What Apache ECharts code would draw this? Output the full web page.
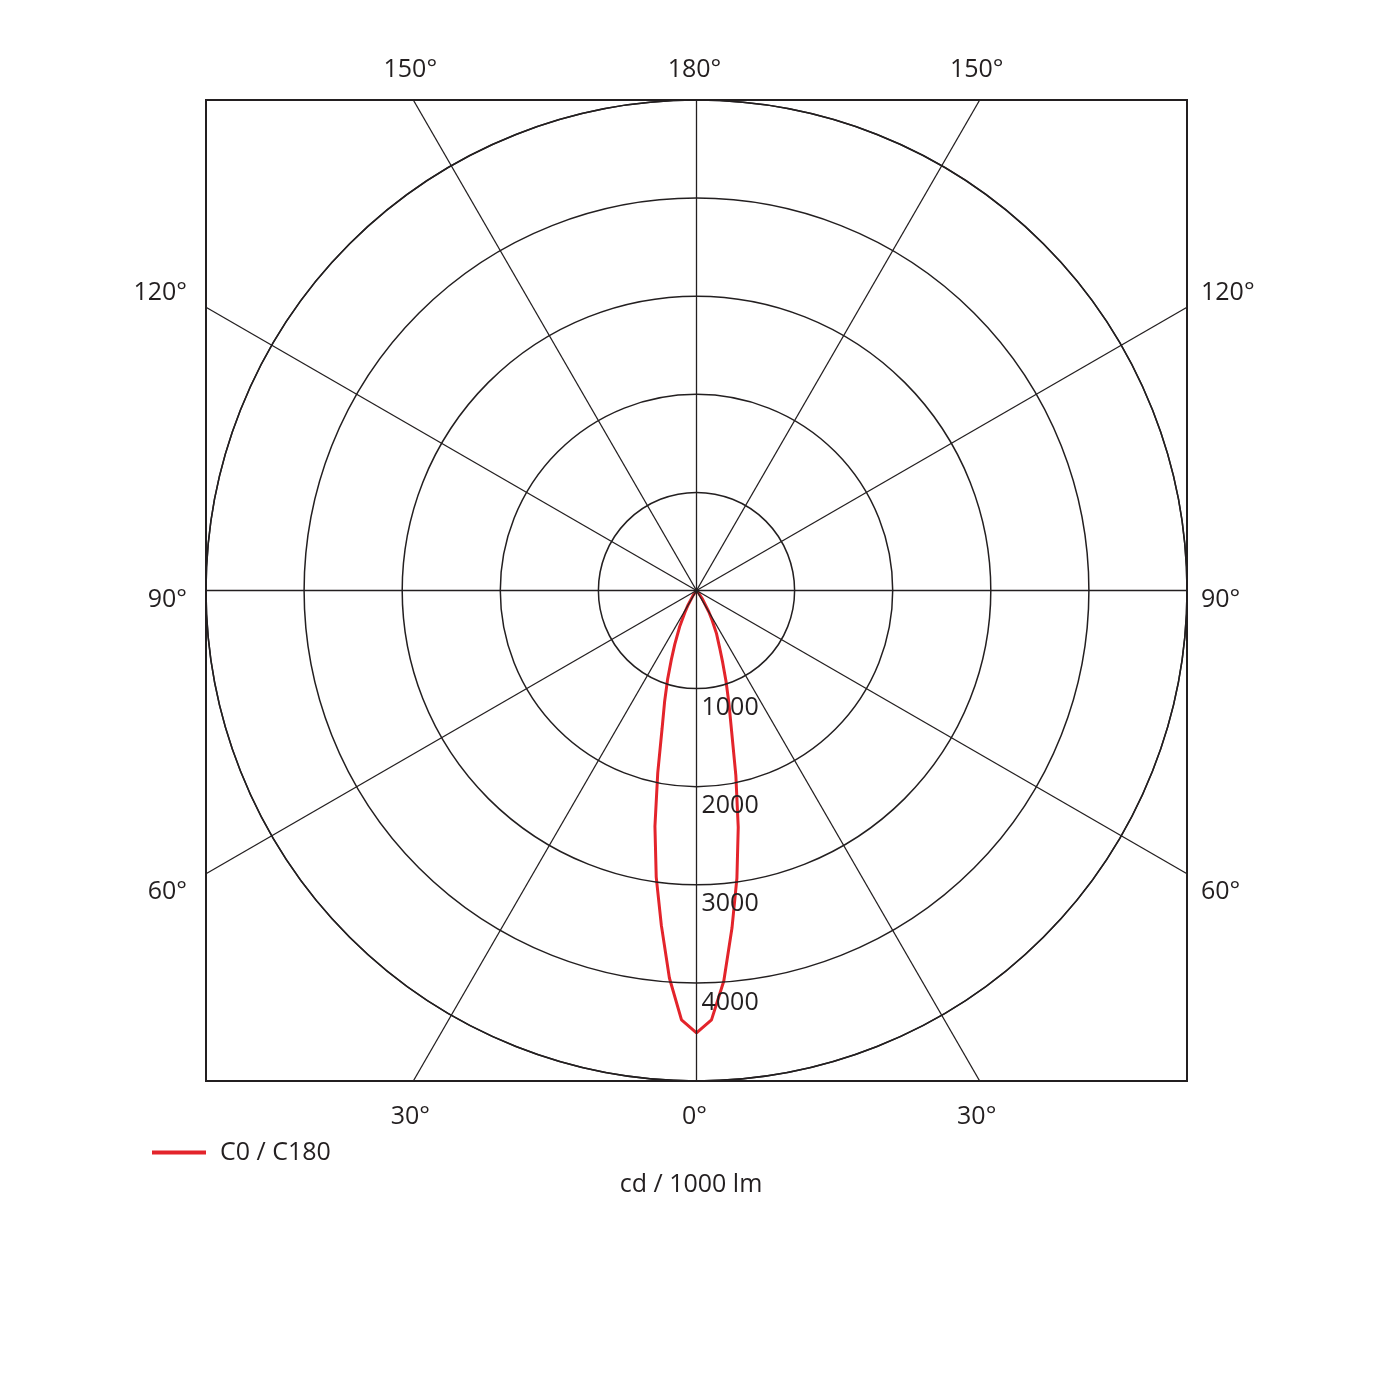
<!DOCTYPE html>
<html>
<head>
<meta charset="utf-8">
<title>C0 / C180</title>
<script src="https://cdn.jsdelivr.net/npm/echarts@6/dist/echarts.min.js"></script>
<style>
  html, body { margin: 0; padding: 0; background: #fff; }
  #chart { width: 1389px; height: 1389px; }
</style>
</head>
<body>
<div id="chart"></div>
<script>
// gamma angles (deg) and intensities (cd / 1000 lm)
const angles = [0, 2, 4, 6, 8, 10, 12, 14, 16, 18, 20, 22, 25, 28, 30, 35, 40, 45, 60, 75, 90];
const c0   = [4510, 4380, 3960, 3430, 2950, 2440, 1900, 1450, 1180, 955, 750, 590, 405, 250, 180, 60, 15, 0, 0, 0, 0];
const c180 = [4510, 4380, 3990, 3460, 2960, 2450, 1930, 1480, 1200, 975, 780, 630, 480, 330, 250, 100, 30, 0, 0, 0, 0];

const ringTicks = [1000, 2000, 3000, 4000];
const spokeAngles = [0, 30, 60, 90, 120, 150, 180, 210, 240, 270, 300, 330];
const angleLabels = ['0°', '30°', '60°', '90°', '120°', '150°', '180°'];

const CX = 696.5, CY = 590.5, R = 490.5, RMAX = 5000;
const INK = '#231f20';
const RED = '#e3242b';
const FONT = '"Open Sans", "Noto Sans", sans-serif';
const FS = 25;

// one closed trace: C180 on the right half, C0 on the left half
let traceData = [];
for (let i = angles.length - 1; i >= 1; i--) {
  traceData.push([c180[i], 360 - angles[i]]);
}
for (let i = 0; i < angles.length; i++) {
  traceData.push([c0[i], angles[i]]);
}

let myChart = echarts.init(document.getElementById('chart'));

// spokes run from the centre to the square frame
function spokeEnd(a) {
  let rad = a * Math.PI / 180;
  let dx = -Math.sin(rad), dy = Math.cos(rad);
  let t = R / Math.max(Math.abs(dx), Math.abs(dy));
  return [CX + dx * t, CY + dy * t];
}

let graphics = [{
  type: 'rect',
  shape: { x: CX - R, y: CY - R, width: 2 * R, height: 2 * R },
  style: { fill: null, stroke: INK, lineWidth: 2 },
  z: 5
}];
spokeAngles.forEach(a => {
  let e = spokeEnd(a);
  graphics.push({
    type: 'line',
    shape: { x1: CX, y1: CY, x2: e[0], y2: e[1] },
    style: { stroke: INK, lineWidth: 1.3 },
    z: 4
  });
});

// angle labels sit just outside the frame
let tan30 = Math.tan(Math.PI / 6);
let labelSpots = [
  // [text, x, y, align]
  [angleLabels[0], CX - 2, CY + R + 36, 'center'],
  [angleLabels[1], CX - R * tan30 - 3, CY + R + 36, 'center'],
  [angleLabels[1], CX + R * tan30 - 3, CY + R + 36, 'center'],
  [angleLabels[5], CX - R * tan30 - 3, CY - R - 30, 'center'],
  [angleLabels[5], CX + R * tan30 - 3, CY - R - 30, 'center'],
  [angleLabels[6], CX - 2, CY - R - 30, 'center'],
  [angleLabels[2], CX - R - 19, CY + R * tan30 + 18, 'right'],
  [angleLabels[3], CX - R - 19, CY + 9, 'right'],
  [angleLabels[4], CX - R - 19, CY - R * tan30 - 14, 'right'],
  [angleLabels[2], CX + R + 14, CY + R * tan30 + 18, 'left'],
  [angleLabels[3], CX + R + 14, CY + 9, 'left'],
  [angleLabels[4], CX + R + 14, CY - R * tan30 - 14, 'left']
];
labelSpots.forEach(s => {
  graphics.push({
    type: 'text',
    x: s[1], y: s[2],
    style: {
      text: s[0], fill: INK, font: FS + 'px ' + FONT,
      textAlign: s[3], textVerticalAlign: 'middle'
    },
    z: 6
  });
});
graphics.push({
  type: 'text',
  x: 691, y: CY + R + 104,
  style: {
    text: 'cd / 1000 lm', fill: INK, font: FS + 'px ' + FONT,
    textAlign: 'center', textVerticalAlign: 'middle'
  },
  z: 6
});

let option = {
  animation: false,
  backgroundColor: '#fff',
  textStyle: { fontFamily: FONT },
  polar: { center: [CX, CY], radius: R },
  angleAxis: {
    type: 'value',
    min: 0,
    max: 360,
    interval: 30,
    startAngle: 270,
    clockwise: true,
    axisLine: { show: true, lineStyle: { color: INK, width: 1.5 } },
    axisTick: { show: false },
    axisLabel: { show: false },
    splitLine: { show: false }
  },
  radiusAxis: {
    type: 'value',
    min: 0,
    max: RMAX,
    interval: 1000,
    axisLine: { show: false },
    axisTick: { show: false },
    splitLine: { show: true, lineStyle: { color: INK, width: 1.5 } },
    axisLabel: {
      show: true,
      color: INK,
      fontSize: FS,
      fontFamily: FONT,
      margin: 5,
      align: 'left',
      verticalAlign: 'top',
      padding: [7, 0, 0, 0],
      formatter: function (v) {
        return ringTicks.indexOf(v) >= 0 ? String(v) : '';
      }
    },
    z: 10
  },
  legend: {
    left: 147,
    top: 1135,
    icon: 'rect',
    itemWidth: 54,
    itemHeight: 4,
    textStyle: { color: INK, fontSize: FS, fontFamily: FONT, padding: [0, 0, 0, 9] },
    data: ['C0 / C180']
  },
  series: [
    {
      name: 'C0 / C180',
      type: 'line',
      coordinateSystem: 'polar',
      symbol: 'none',
      smooth: false,
      lineStyle: { color: RED, width: 3 },
      itemStyle: { color: RED },
      data: traceData,
      z: 3
    }
  ],
  graphic: graphics
};
myChart.setOption(option);
</script>
</body>
</html>
